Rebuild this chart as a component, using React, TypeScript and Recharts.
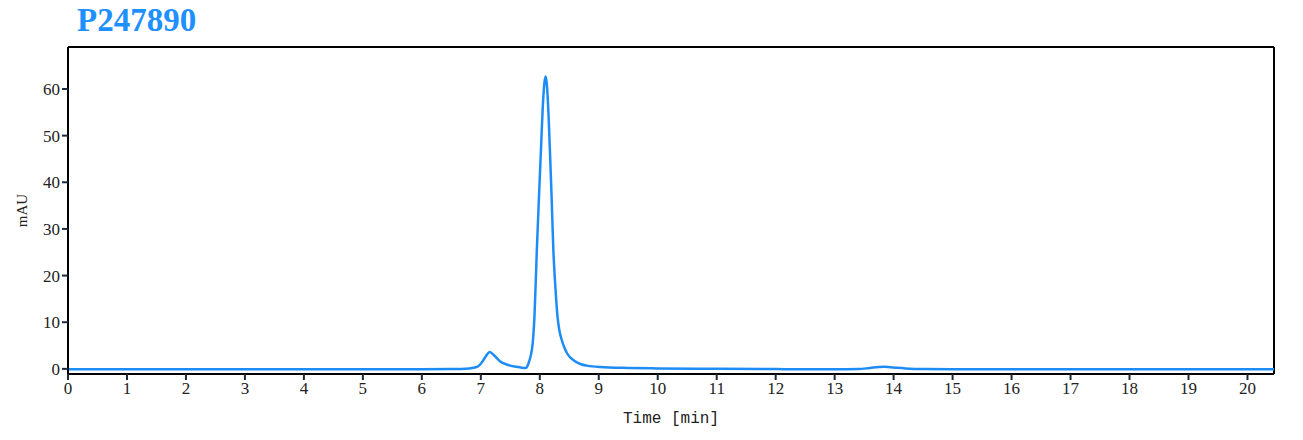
import { LineChart, Line, XAxis, YAxis, ReferenceLine } from 'recharts'

// retention time (min) and absorbance (mAU)
const times = [
  0, 1, 2, 3, 4, 5, 6, 6.5, 6.8, 6.9, 6.95, 7.0, 7.05, 7.1, 7.15, 7.2, 7.25, 7.33, 7.4, 7.5, 7.61, 7.7, 7.76,
  7.79, 7.82, 7.85, 7.88, 7.91, 7.95, 7.99, 8.02, 8.05, 8.08, 8.1, 8.12, 8.15, 8.18, 8.2, 8.23, 8.26, 8.28,
  8.3, 8.33, 8.37, 8.41, 8.46, 8.52, 8.6, 8.7, 8.8, 9.02, 9.5, 10, 11, 12, 13, 13.4, 13.6, 13.75, 13.85,
  14.0, 14.2, 14.5, 15, 16, 17, 18, 19, 20, 20.45,
]
const mau = [
  -0.1, -0.1, -0.1, -0.1, -0.1, -0.1, -0.1, -0.05, 0.1, 0.3, 0.5, 1.1, 2.0, 3.0, 3.6, 3.2, 2.6, 1.6, 1.1, 0.7, 0.45, 0.25, 0.2,
  0.6, 1.6, 3.0, 5.5, 11.3, 25.5, 38, 47, 56, 61.5, 62.7, 61, 54, 44, 37, 25.5, 18.4, 14.5,
  11.3, 8.4, 6.3, 4.8, 3.4, 2.4, 1.6, 1.0, 0.7, 0.4, 0.2, 0.1, 0.0, -0.05, -0.1, -0.05, 0.2, 0.4, 0.45,
  0.3, 0.1, -0.05, -0.1, -0.1, -0.1, -0.1, -0.1, -0.1, -0.1,
]
const xTicks = [0, 1, 2, 3, 4, 5, 6, 7, 8, 9, 10, 11, 12, 13, 14, 15, 16, 17, 18, 19, 20]
const yTicks = [0, 10, 20, 30, 40, 50, 60]

const data = times.map((t, i) => ({ t, v: mau[i] }))

const tickStyle = { fontFamily: '"Liberation Serif", serif', fontSize: 17, fill: '#222' }

export default function App() {
  return (
    <div style={{ position: 'absolute', left: 0, top: 0, width: 1303, height: 440, background: '#fff' }}>
      <div
        style={{
          position: 'absolute',
          left: 77,
          top: 0,
          fontFamily: '"Liberation Serif", serif',
          fontWeight: 'bold',
          fontSize: 33,
          color: '#1e90ff',
          lineHeight: '40px',
        }}
      >
        P247890
      </div>
      <LineChart width={1303} height={440} data={data} margin={{ top: 47, right: 29, bottom: 26, left: 28 }}>
        <XAxis
          dataKey="t"
          type="number"
          domain={[0, 20.45]}
          ticks={xTicks}
          allowDataOverflow
          interval={0}
          height={40}
          tick={tickStyle}
          tickLine={{ stroke: '#1a2a3a', strokeWidth: 2 }}
          tickSize={6}
          axisLine={{ stroke: '#000', strokeWidth: 2 }}
          label={{
            value: 'Time [min]',
            position: 'insideBottom',
            offset: -9,
            style: { fontFamily: '"Liberation Mono", monospace', fontSize: 16, fill: '#222' },
          }}
        />
        <YAxis
          type="number"
          domain={[-1.1, 69]}
          ticks={yTicks}
          allowDataOverflow
          interval={0}
          width={40}
          tick={tickStyle}
          tickLine={{ stroke: '#1a2a3a', strokeWidth: 2 }}
          tickSize={6}
          axisLine={{ stroke: '#000', strokeWidth: 2 }}
          label={{
            value: 'mAU',
            angle: -90,
            position: 'insideLeft',
            offset: -6,
            style: { fontFamily: '"Liberation Serif", serif', fontSize: 15, fill: '#222', textAnchor: 'middle' },
          }}
        />
        <ReferenceLine y={69} stroke="#000" strokeWidth={2} />
        <ReferenceLine x={20.45} stroke="#000" strokeWidth={2} />
        <Line
          type="monotone"
          dataKey="v"
          stroke="#1e8cf5"
          strokeWidth={2.5}
          dot={false}
          isAnimationActive={false}
        />
      </LineChart>
    </div>
  )
}
